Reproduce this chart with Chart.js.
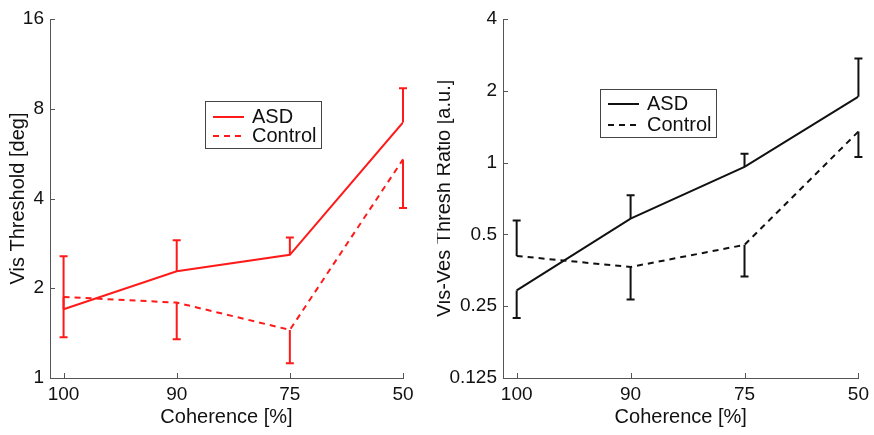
<!DOCTYPE html>
<html>
<head>
<meta charset="utf-8">
<script src="https://cdn.jsdelivr.net/npm/chart.js@4"></script>
<style>
    body { margin: 0; background: #fff; }
    .panel { position: absolute; top: 0; width: 437px; height: 435px; }
</style>
</head>
<body>
<div class="panel" style="left:0"><canvas id="graficoVis"></canvas></div>
<div class="panel" style="left:437px"><canvas id="graficoRatio"></canvas></div>
<script>
// Datos
const coherencias = ['100', '90', '75', '50'];

const visAsd = [1.70, 2.28, 2.59, 7.2];
const visAsdErr = [2.56, 2.90, 2.96, 9.37];
const visControl = [1.87, 1.79, 1.45, 5.41];
const visControlErr = [1.37, 1.35, 1.12, 3.72];
const visTicks = [1, 2, 4, 8, 16];

const ratioAsd = [0.291, 0.582, 0.959, 1.89];
const ratioAsdErr = [0.223, 0.729, 1.09, 2.73];
const ratioControl = [0.406, 0.365, 0.452, 1.35];
const ratioControlErr = [0.572, 0.267, 0.333, 1.056];
const ratioTicks = [0.125, 0.25, 0.5, 1, 2, 4];

const FUENTE = '"Liberation Sans", Arial, sans-serif';

// Barras de error de un solo lado, con tapa
const barrasError = {
    id: 'barrasError',
    afterDatasetsDraw(chart) {
        const ctx = chart.ctx;
        const x = chart.scales.x, y = chart.scales.y;
        chart.data.datasets.forEach(ds => {
            ctx.save();
            ctx.strokeStyle = ds.borderColor;
            ctx.lineWidth = 2;
            ds.data.forEach((p, i) => {
                const px = x.getPixelForValue(p.x);
                const y0 = y.getPixelForValue(p.y);
                const y1 = y.getPixelForValue(ds.errores[i]);
                ctx.beginPath();
                ctx.moveTo(px, y0);
                ctx.lineTo(px, y1);
                ctx.moveTo(px - 4, y1);
                ctx.lineTo(px + 4, y1);
                ctx.stroke();
            });
            ctx.restore();
        });
    }
};

// Marcas hacia dentro y leyenda dentro del area
const marcasYLeyenda = {
    id: 'marcasYLeyenda',
    afterDraw(chart, args, opts) {
        const ctx = chart.ctx;
        const x = chart.scales.x, y = chart.scales.y;
        ctx.save();
        ctx.strokeStyle = '#555';
        ctx.lineWidth = 1;
        y.ticks.forEach(t => {
            const py = Math.round(y.getPixelForValue(t.value)) + 0.5;
            ctx.beginPath();
            ctx.moveTo(y.right, py);
            ctx.lineTo(y.right + 5, py);
            ctx.stroke();
        });
        x.ticks.forEach(t => {
            const px = Math.round(x.getPixelForValue(t.value)) + 0.5;
            ctx.beginPath();
            ctx.moveTo(px, x.top);
            ctx.lineTo(px, x.top - 5);
            ctx.stroke();
        });

        const b = opts.caja;
        ctx.fillStyle = '#fff';
        ctx.fillRect(b.x, b.y, b.w, b.h);
        ctx.strokeStyle = '#444';
        ctx.strokeRect(b.x + 0.5, b.y + 0.5, b.w, b.h);
        ctx.font = '20px ' + FUENTE;
        ctx.textBaseline = 'middle';
        chart.data.datasets.forEach((ds, i) => {
            const ly = b.y + b.filas[i];
            ctx.strokeStyle = ds.borderColor;
            ctx.lineWidth = 2;
            ctx.setLineDash(ds.borderDash || []);
            ctx.beginPath();
            ctx.moveTo(b.x + 8, ly);
            ctx.lineTo(b.x + 39, ly);
            ctx.stroke();
            ctx.setLineDash([]);
            ctx.fillStyle = '#111';
            ctx.fillText(ds.label, b.x + 47, ly);
        });
        ctx.restore();
    }
};

function crearGrafico(id, opciones) {
    const ctx = document.getElementById(id).getContext('2d');
    const puntos = vals => vals.map((v, i) => ({ x: i, y: v }));
    new Chart(ctx, {
        type: 'line',
        data: {
            datasets: [{
                label: 'ASD',
                data: puntos(opciones.asd),
                errores: opciones.asdErr,
                borderColor: opciones.color,
                borderWidth: 2,
                pointRadius: 0,
                tension: 0
            }, {
                label: 'Control',
                data: puntos(opciones.control),
                errores: opciones.controlErr,
                borderColor: opciones.color,
                borderDash: [6, 5],
                borderWidth: 2,
                pointRadius: 0,
                tension: 0
            }]
        },
        options: {
            responsive: true,
            maintainAspectRatio: false,
            animation: false,
            layout: { padding: { top: 19, right: opciones.derecha, bottom: 0, left: 0 } },
            plugins: {
                legend: { display: false },
                tooltip: { enabled: false },
                marcasYLeyenda: { caja: opciones.caja }
            },
            scales: {
                x: {
                    type: 'linear',
                    min: -0.12,
                    max: 3,
                    afterBuildTicks: s => { s.ticks = [0, 1, 2, 3].map(v => ({ value: v })); },
                    afterFit: s => { s.height = 57; },
                    ticks: {
                        callback: v => coherencias[v],
                        color: '#111',
                        font: { family: FUENTE, size: 19 },
                        padding: 5
                    },
                    grid: { display: false, drawTicks: false },
                    border: { color: '#555' },
                    title: {
                        display: true,
                        text: 'Coherence [%]',
                        color: '#111',
                        font: { family: FUENTE, size: 20 },
                        padding: { top: 0, bottom: 6 }
                    }
                },
                y: {
                    type: 'logarithmic',
                    min: opciones.ticks[0],
                    max: opciones.ticks[opciones.ticks.length - 1],
                    afterBuildTicks: s => { s.ticks = opciones.ticks.map(v => ({ value: v })); },
                    afterFit: s => { s.width = opciones.anchoY; },
                    ticks: {
                        callback: v => String(v),
                        color: '#111',
                        font: { family: FUENTE, size: 19 },
                        padding: 6
                    },
                    grid: { display: false, drawTicks: false },
                    border: { color: '#555' },
                    title: {
                        display: true,
                        text: opciones.tituloY,
                        color: '#111',
                        font: { family: FUENTE, size: 20 },
                        padding: { top: opciones.padTitulo, bottom: 0 }
                    }
                }
            }
        },
        plugins: [barrasError, marcasYLeyenda]
    });
}

document.addEventListener('DOMContentLoaded', function() {
    crearGrafico('graficoVis', {
        asd: visAsd, asdErr: visAsdErr,
        control: visControl, controlErr: visControlErr,
        ticks: visTicks,
        color: '#ff1a1a',
        tituloY: 'Vis Threshold [deg]',
        anchoY: 50, derecha: 34, padTitulo: 6,
        caja: { x: 205, y: 101, w: 116, h: 47, filas: [16, 35] }
    });
    crearGrafico('graficoRatio', {
        asd: ratioAsd, asdErr: ratioAsdErr,
        control: ratioControl, controlErr: ratioControlErr,
        ticks: ratioTicks,
        color: '#111',
        tituloY: 'Vis-Ves Thresh Ratio [a.u.]',
        anchoY: 66, derecha: 15, padTitulo: -5,
        caja: { x: 163, y: 89, w: 116, h: 48, filas: [15, 36] }
    });
});
</script>
</body>
</html>
